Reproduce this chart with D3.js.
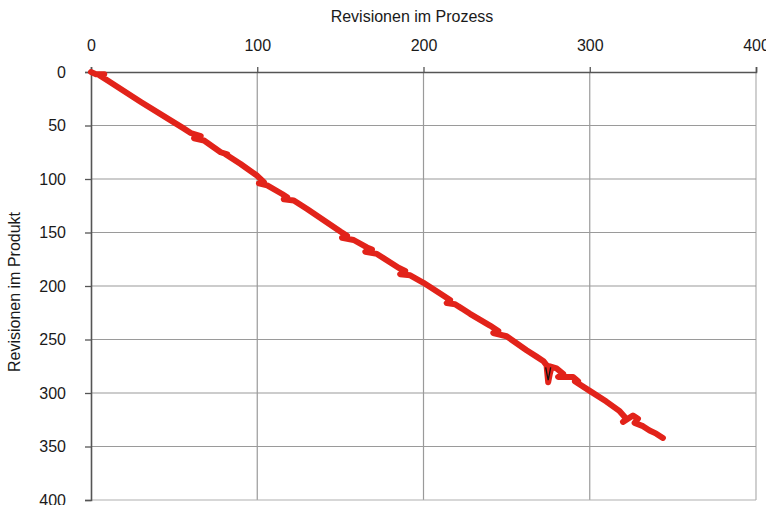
<!DOCTYPE html>
<html><head><meta charset="utf-8">
<script src="https://cdn.jsdelivr.net/npm/d3@7"></script>
<style>body{margin:0;background:#fff}svg{display:block}text{font-family:"Liberation Sans",Arial,sans-serif}</style>
</head><body><svg id="c" width="766" height="505"></svg>
<script>
const xTicks = [0,100,200,300,400];
const yTicks = [0,50,100,150,200,250,300,350,400];
const xTitle = "Revisionen im Prozess";
const yTitle = "Revisionen im Produkt";
// red series: revisions in process (x) vs revisions in product (y)
const procX = [0,3,8,5,10,30,55,60,66,62,68,78,82,80,90,100,104,101,106,115,118,116,122,130,150,154,151,158,166,169,165,172,185,189,186,192,200,210,216,214,219,223,221,228,240,245,242,250,262,268,272,274,275,276,277,276,280,284,281,290,293,291,300,310,318,322,320,326,329,327,332,336,340,344];
const prodY = [0,2,2,3,8,28,52,57,60,62,64,75,77,76,86,97,103,104,106,114,117,119,120,128,149,153,155,157,164,166,168,170,183,186,189,190,197,207,213,216,217,221,219,226,237,242,244,247,260,266,270,274,290,282,276,275,277,282,285,285,289,289,298,308,317,324,327,321,324,328,331,335,338,342];
// thin black trace, visible only at the V-shaped step
const blackX = [273.5,275,276.5];
const blackY = [276,288,276];

const svg = d3.select("#c");
const L=91,R=756,T=72,B=500;
const x = d3.scaleLinear().domain([0,400]).range([L,R]);
const y = d3.scaleLinear().domain([0,400]).range([T,B]);

// gridlines
svg.append("g").selectAll("line").data(xTicks.slice(1)).join("line")
  .attr("x1",d=>x(d)).attr("x2",d=>x(d)).attr("y1",T).attr("y2",B)
  .attr("stroke",d=>d===400?"#b0b0b0":"#9a9a9a").attr("stroke-width",1.2);
svg.append("g").selectAll("line").data(yTicks.slice(1)).join("line")
  .attr("x1",L).attr("x2",R).attr("y1",d=>y(d)).attr("y2",d=>y(d))
  .attr("stroke",d=>d===400?"#b0b0b0":"#9a9a9a").attr("stroke-width",1.2);

const xa = svg.append("g").attr("transform",`translate(0,${T})`)
  .call(d3.axisTop(x).tickValues(xTicks).tickSize(5).tickPadding(16).tickFormat(d3.format("d")));
const ya = svg.append("g").attr("transform",`translate(${L},0)`)
  .call(d3.axisLeft(y).tickValues(yTicks).tickSize(6).tickPadding(19).tickFormat(d3.format("d")));
[xa,ya].forEach(a=>{
  a.select(".domain").attr("stroke","#555").attr("stroke-width",1.6);
  a.selectAll(".tick line").attr("stroke","#555").attr("stroke-width",1.3);
  a.selectAll(".tick text").attr("font-size",16).attr("fill","#1a1a1a");
});

svg.append("text").attr("x",412).attr("y",22).attr("text-anchor","middle")
  .attr("font-size",16).attr("fill","#1a1a1a").text(xTitle);
svg.append("text").attr("transform","translate(20,292) rotate(-90)").attr("text-anchor","middle")
  .attr("font-size",16).attr("fill","#1a1a1a").text(yTitle);

const line = d3.line().x(d=>x(d[0])).y(d=>y(d[1]));
svg.append("path").datum(procX.map((v,i)=>[v,prodY[i]]))
  .attr("d",line).attr("fill","none").attr("stroke","#e2231a").attr("stroke-width",6)
  .attr("stroke-linejoin","round").attr("stroke-linecap","round");
svg.append("path").datum(blackX.map((v,i)=>[v,blackY[i]]))
  .attr("d",line).attr("fill","none").attr("stroke","#111").attr("stroke-width",1.3);
</script></body></html>
